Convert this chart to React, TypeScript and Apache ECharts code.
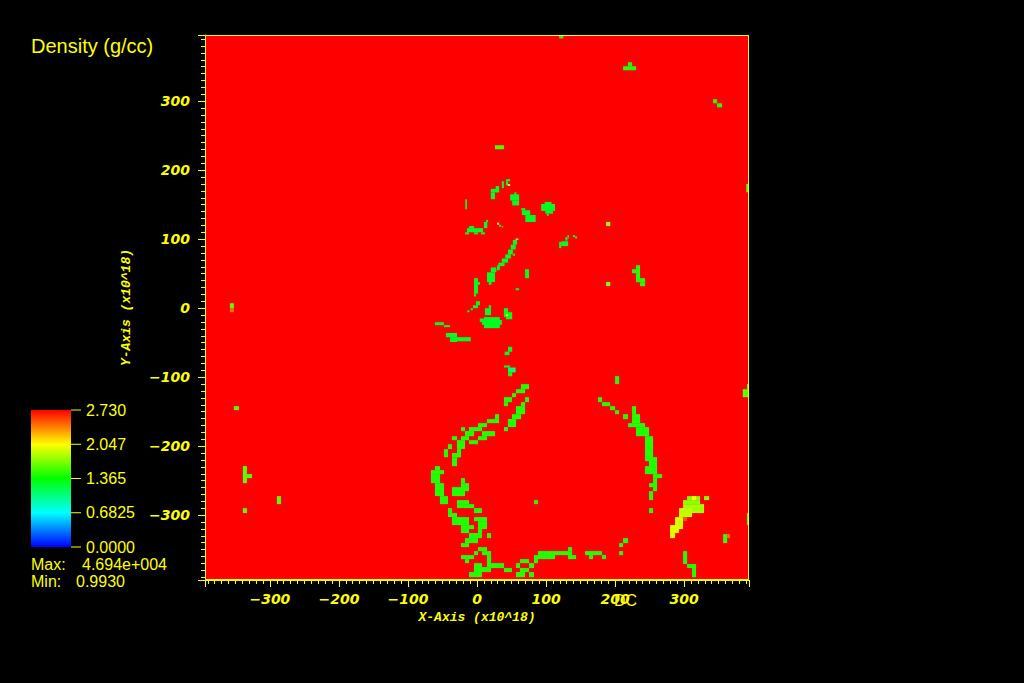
import React, { useEffect, useRef } from "react";
import * as echarts from "echarts";

// ---------- data ----------
const VAR_TITLE = "Density (g/cc)";
const X_NAME = "X-Axis (x10^18)";
const Y_NAME = "Y-Axis (x10^18)";
const DB_LABEL = "DC";
const X_RANGE = [-394, 394];
const Y_RANGE = [-394, 396];
const CBAR_MIN = 0;
const CBAR_MAX = 2.73;
const CBAR_TICKS = [2.73, 2.047, 1.365, 0.6825, 0.0];
const CBAR_LABELS = ["2.730", "2.047", "1.365", "0.6825", "0.0000"];
const DATA_MAX = "4.694e+004";
const DATA_MIN = "0.9930";
const COLOR_STOPS: [number, string][] = [
  [0, "#0000ff"],
  [0.25, "#00ffff"],
  [0.5, "#00ff00"],
  [0.75, "#ffff00"],
  [1, "#ff0000"],
];

// cells: [x0, x1, y0, y1, density]
const DOMAIN = [[-394, 394, -394, 396, 3.5]];

const NORTH_CELLS = [
  [119, 125, 391, 397, 1.45],
  [218.8, 224.6, 350.7, 356.5, 1.45],
  [211.6, 230.4, 344.9, 350.7, 1.45],
  [342, 347.8, 297, 303, 1.45],
  [347.8, 355, 291.2, 297, 1.45],
  [26, 39, 230.4, 236.2, 1.55],
  [390, 394, 168, 180, 1.6],
];

const FILAMENT_CELLS = [
  [42, 48, 184, 187, 1.28],
  [42, 45, 178, 184, 1.28],
  [36, 39, 174, 184, 1.28],
  [45, 48, 177, 180, 2.05],
  [27, 32, 168, 177, 1.28],
  [20, 32, 168, 173, 1.28],
  [20, 26, 158, 168, 1.28],
  [54, 57, 162, 168, 1.28],
  [48, 61, 156, 165, 1.28],
  [51, 61, 149, 156, 1.28],
  [-17, -14.5, 143.5, 158, 1.3],
  [64, 70, 142, 145, 1.28],
  [65, 77, 135, 142, 1.28],
  [70, 85, 125, 135, 1.28],
  [98, 108, 151, 154, 1.28],
  [93, 113, 141, 151, 1.28],
  [99, 110, 137, 141, 1.28],
  [101, 104, 134, 137, 1.28],
  [-11.6, -4.3, 116, 119, 1.28],
  [-14.5, 8.7, 110, 116, 1.28],
  [-17.4, -11.6, 107, 110, 1.3],
  [-4.3, 1.4, 107, 110, 1.3],
  [5.8, 11.6, 107, 110, 1.3],
  [10, 15, 116, 125, 1.28],
  [13, 16, 125, 128, 1.3],
  [29, 32, 121, 124, 2.0],
  [32, 35, 118, 121, 1.3],
  [36, 38, 117, 119, 1.3],
  [119, 122, 87, 96, 1.28],
  [122, 132, 90, 97, 1.28],
  [128, 131, 98, 103, 1.28],
  [131, 133, 101, 106, 1.3],
  [139, 142, 103, 106, 1.3],
  [142, 145, 101, 104, 1.3],
  [187, 193, 119, 125, 1.75],
  [187, 193, 32, 38, 1.7],
  [56, 60, 99, 101, 2.05],
  [52, 58, 92, 99, 1.28],
  [49, 56, 85, 92, 1.28],
  [45, 52, 78, 85, 1.28],
  [41, 49, 72, 78, 1.28],
  [36, 45, 66, 72, 1.28],
  [31, 40, 61, 66, 1.28],
  [52, 55, 76, 79, 1.3],
  [29, 33, 55, 62, 1.28],
  [20, 28, 52, 59, 1.28],
  [14.5, 26, 38, 52, 1.28],
  [17, 21, 34, 38, 1.28],
  [-4.3, 1.4, 21, 43.5, 1.28],
  [1.4, 4.3, 34, 38, 1.28],
  [-4.3, -1.4, 17, 21, 1.3],
  [69.6, 75.3, 43.5, 56.5, 1.3],
  [56, 61, 26, 29, 1.3],
  [-1.4, 4.3, 4.3, 10.1, 1.3],
  [-5.8, 1.4, 0, 4.3, 1.3],
  [17, 20.3, 0, 4.3, 1.28],
  [11.6, 20.3, -10.1, 0, 1.28],
  [-14, -11, -6, -3, 1.3],
  [-9, -6, -3, 0, 1.3],
  [10, 33, -29, -13, 1.28],
  [7, 36, -24, -17, 1.28],
  [4, 10, -20, -15, 1.3],
  [39, 45, -13, 0, 1.3],
  [42, 51, -16, -6, 1.3],
  [42, 45, -11.6, -8.7, 2.05],
  [-61, -48, -24.6, -20.3, 1.28],
  [-48, -39, -27.5, -24.6, 1.28],
  [-45, -29, -42, -36, 1.28],
  [-39, -29, -49, -42, 1.28],
  [-29, -9, -48, -42, 1.28],
  [45, 51, -63, -56, 1.28],
  [40, 47, -68, -63, 1.28],
  [39, 48, -86, -83, 1.3],
  [45, 56, -93, -86, 1.05],
  [45, 51, -98.5, -93, 1.4],
];

const ARC_WEST = [
  [63.8, 75.3, -117.4, -110.1, 1.45],
  [56.5, 69.6, -123.2, -117.4, 1.45],
  [50.7, 56.5, -129, -123.2, 1.45],
  [39.1, 50.7, -136.2, -129, 1.45],
  [39.1, 44.9, -142, -136.2, 1.45],
  [69.6, 75.3, -136.2, -129, 1.45],
  [63.8, 69.6, -142, -136.2, 1.45],
  [56.5, 69.6, -153.6, -142, 1.45],
  [50.7, 63.8, -160.8, -153.6, 1.45],
  [44.9, 56.5, -172.4, -160.8, 1.45],
  [39.1, 44.9, -178.2, -172.4, 1.45],
  [26.1, 31.9, -160.8, -153.6, 1.45],
  [14.5, 31.9, -166.6, -160.8, 1.45],
  [1.4, 14.5, -172.4, -166.6, 1.45],
  [-11.6, 7.2, -178.2, -172.4, 1.45],
  [-23.2, -17.4, -178.2, -172.4, 1.45],
  [-17.4, -4.3, -185.5, -178.2, 1.45],
  [7.2, 26.1, -185.5, -178.2, 1.45],
  [1.4, 14.5, -191.3, -185.5, 1.45],
  [-11.6, 1.4, -197.1, -191.3, 1.45],
  [-23.2, -11.6, -191.3, -185.5, 1.45],
  [-36.2, -29, -191.3, -185.5, 1.45],
  [-29, -17.4, -204, -191.3, 1.45],
  [-29, -23.2, -216, -204, 1.45],
  [-42, -36.2, -204.3, -197.1, 1.45],
  [-47.8, -42, -215.9, -204.3, 1.45],
  [-36.2, -23.2, -216, -210, 1.45],
  [-36.2, -29, -229, -216, 1.45],
  [-60.9, -53.6, -234.7, -229, 1.45],
  [-66.7, -47.8, -240.5, -234.7, 1.45],
  [-66.7, -53.6, -253.6, -240.5, 1.45],
  [-60.9, -47.8, -272.4, -253.6, 1.45],
  [-53.6, -42, -284, -272.4, 1.45],
  [-23.2, -17.4, -253.6, -246.3, 1.45],
  [-23.2, -11.6, -265.2, -253.6, 1.45],
  [-36.2, -17.4, -272.4, -259.4, 1.45],
  [82.6, 88.4, -284, -278.2, 1.45],
  [-29, -11.6, -284, -278.2, 1.45],
  [-29, -4.3, -289.8, -284, 1.45],
  [-4.3, 7.2, -297, -289.8, 1.45],
  [-42, -36.2, -297, -289.8, 1.45],
  [-42, -29, -302.8, -297, 1.45],
  [-36.2, -11.6, -314.4, -302.8, 1.45],
  [-4.3, 14.5, -308.6, -302.8, 1.45],
  [1.4, 14.5, -320.2, -308.6, 1.45],
  [-23.2, -11.6, -326, -314.4, 1.45],
  [-11.6, -4.3, -320.2, -314.4, 1.45],
  [1.4, 7.2, -326, -320.2, 1.45],
  [-11.6, 7.2, -333.3, -326, 1.45],
  [14.5, 20.3, -333.3, -326, 1.45],
  [-17.4, 1.4, -340.5, -333.3, 1.45],
  [-23.2, -11.6, -346.3, -340.5, 1.45],
  [1.4, 14.5, -352.1, -346.3, 1.45],
  [-4.3, 1.4, -357.9, -352.1, 1.45],
  [7.2, 20.3, -357.9, -352.1, 1.45],
  [-23.2, -4.3, -363.7, -357.9, 1.45],
  [-17.4, -11.6, -369.5, -363.7, 1.45],
  [14.5, 20.3, -375.3, -357.9, 1.45],
  [-4.3, 7.2, -382.5, -369.5, 1.45],
  [7.2, 20.3, -382.5, -375.3, 1.45],
  [20.3, 39.1, -376.7, -369.5, 1.45],
  [39.1, 50.7, -382.5, -376.7, 1.45],
  [-11.6, 7.2, -389.8, -382.5, 1.45],
  [56.5, 62.3, -376.7, -369.5, 1.45],
  [62.3, 75.3, -369.5, -363.7, 1.45],
  [75.3, 82.6, -376.7, -369.5, 1.45],
  [62.3, 75.3, -382.5, -376.7, 1.45],
  [56.5, 69.6, -389.8, -382.5, 1.45],
  [75.3, 82.6, -389.8, -382.5, 1.45],
  [82.6, 88.4, -369.5, -357.9, 1.45],
  [88.4, 113, -363.7, -352.1, 1.45],
  [113, 137.7, -357.9, -352.1, 1.45],
  [131.9, 137.7, -352.1, -346.3, 1.45],
  [131.9, 143.5, -363.7, -357.9, 1.45],
];

const ARC_EAST = [
  [200, 205.8, -110.1, -98.5, 1.45],
  [175.3, 181.1, -136.2, -129, 1.45],
  [181.1, 192.7, -142, -136.2, 1.45],
  [192.7, 200, -147.8, -142, 1.45],
  [200, 205.8, -153.6, -147.8, 1.45],
  [211.6, 218.8, -160.8, -153.6, 1.45],
  [224.6, 230.4, -153.6, -142, 1.45],
  [224.6, 236.2, -166.6, -153.6, 1.45],
  [218.8, 224.6, -172.4, -166.6, 1.45],
  [224.6, 243.4, -172.4, -166.6, 1.45],
  [230.4, 249.2, -185.5, -172.4, 1.45],
  [243.4, 255, -221.7, -185.5, 1.45],
  [249.2, 260.8, -228.9, -215.9, 1.45],
  [243.4, 260.8, -240.5, -228.9, 1.45],
  [255, 268.1, -246.3, -240.5, 1.45],
  [255, 260.8, -265.2, -246.3, 1.45],
  [249.2, 255, -259.4, -253.6, 1.45],
  [249.2, 255, -278.2, -265.2, 1.45],
  [249.2, 255, -297, -289.8, 1.45],
  [156.5, 181.1, -357.9, -352.1, 1.45],
  [162.3, 168.1, -363.7, -357.9, 1.45],
  [181.1, 186.9, -363.7, -357.9, 1.45],
  [205.8, 211.6, -346.3, -340.5, 1.45],
  [211.6, 218.8, -340.5, -333.3, 1.45],
  [205.8, 211.6, -357.9, -352.1, 1.45],
  [298.5, 304.3, -370.9, -352.1, 1.45],
  [304.3, 317.3, -376.7, -370.9, 1.45],
  [311.5, 317.3, -389.8, -376.7, 1.45],
  [230.4, 236.2, 40.6, 62.3, 1.45],
  [224.6, 230.4, 50.7, 56.5, 1.45],
  [230.4, 243.4, 37.7, 43.5, 1.45],
  [236.2, 243.4, 31.9, 37.7, 1.45],
];

const CLUMP = [
  [304.3, 323.1, -278.2, -272.4, 1.72],
  [311.5, 317.3, -278.2, -272.4, 2.05],
  [328.9, 336.2, -278.2, -272.4, 1.72],
  [298.5, 323.1, -284, -278.2, 1.75],
  [298.5, 328.9, -297, -284, 1.8],
  [292.7, 311.5, -302.8, -289.8, 1.88],
  [286.9, 298.5, -320.2, -302.8, 1.93],
  [298.5, 304.3, -308.6, -302.8, 2.5],
  [279.7, 292.7, -326, -314.4, 1.95],
  [279.7, 286.9, -333.3, -326, 1.97],
];

const OUTLIERS = [
  [356.5, 362.3, -340.5, -327.5, 1.5],
  [362.3, 366.6, -333.3, -327.5, 2.45],
  [391, 394, -117.4, -110.1, 1.6],
  [385, 394, -129, -117.4, 1.6],
  [391, 394, -314.4, -297, 1.6],
  [-357.9, -352.1, 0, 7.2, 1.6],
  [-357.9, -352.1, -5.8, 0, 2.45],
  [-352.1, -344.9, -147.8, -142, 1.6],
  [-339.1, -333.3, -253.6, -228.9, 1.6],
  [-333.3, -326, -246.3, -240.5, 1.6],
  [-289.8, -284, -284, -272.4, 1.6],
  [-339.1, -333.3, -297, -289.8, 1.6],
];

const CELLS = [
  ...DOMAIN,
  ...NORTH_CELLS,
  ...FILAMENT_CELLS,
  ...ARC_WEST,
  ...ARC_EAST,
  ...CLUMP,
  ...OUTLIERS,
];

// ---------- helpers ----------
function hexToRgb(h: string) {
  return [1, 3, 5].map((i) => parseInt(h.slice(i, i + 2), 16));
}
function colorFor(v: number) {
  let t = (v - CBAR_MIN) / (CBAR_MAX - CBAR_MIN);
  t = Math.max(0, Math.min(1, t));
  for (let i = 1; i < COLOR_STOPS.length; i++) {
    const [t1, c1] = COLOR_STOPS[i];
    const [t0, c0] = COLOR_STOPS[i - 1];
    if (t <= t1) {
      const f = (t - t0) / (t1 - t0);
      const a = hexToRgb(c0);
      const b = hexToRgb(c1);
      const c = a.map((x, k) => Math.round(x + (b[k] - x) * f));
      return `rgb(${c[0]},${c[1]},${c[2]})`;
    }
  }
  return COLOR_STOPS[COLOR_STOPS.length - 1][1];
}

const YELLOW = "#ffff00";
const fmtTick = (v: number) => (v < 0 ? "\u2212" + Math.abs(v) : String(v));

export default function App() {
  const ref = useRef<HTMLDivElement>(null);
  useEffect(() => {
    if (!ref.current) return;
    const chart = echarts.init(ref.current, undefined, { renderer: "svg" });

    const GRID = { left: 205, top: 35, width: 544, height: 545 };
    const CB = { x: 31, y: 410, w: 40, h: 137 };

    const axisCommon = {
      type: "value" as const,
      splitNumber: 8,
      splitLine: { show: false },
      axisLine: { show: true, onZero: false, lineStyle: { color: YELLOW, width: 1 } },
      axisTick: { show: true, length: 7, lineStyle: { color: YELLOW, width: 1 } },
      minorTick: { show: true, splitNumber: 10, length: 4, lineStyle: { color: YELLOW, width: 1 } },
      axisLabel: {
        color: YELLOW,
        fontFamily: "DejaVu Sans",
        fontStyle: "italic" as const,
        fontWeight: "bold" as const,
        fontSize: 14,
        showMinLabel: false,
        showMaxLabel: false,
        formatter: (v: number) => fmtTick(v),
      },
      nameLocation: "middle" as const,
      nameTextStyle: {
        color: YELLOW,
        fontFamily: "Liberation Mono",
        fontStyle: "italic" as const,
        fontWeight: "bold" as const,
        fontSize: 13,
      },
    };

    // gradient stops in ascending offset order (top of bar = max value)
    const cbStops = COLOR_STOPS.map(([t, c]) => ({ offset: 1 - t, color: c })).reverse();
    const cbGradient = new echarts.graphic.LinearGradient(0, 0, 0, 1, cbStops);

    const cbElems: any[] = [];
    CBAR_TICKS.forEach((v, i) => {
      const y = CB.y + (1 - (v - CBAR_MIN) / (CBAR_MAX - CBAR_MIN)) * CB.h;
      cbElems.push({
        type: "line",
        shape: { x1: CB.x + CB.w, y1: y, x2: CB.x + CB.w + 10, y2: y },
        style: { stroke: YELLOW, lineWidth: 1 },
      });
      cbElems.push({
        type: "text",
        x: CB.x + CB.w + 15,
        y,
        style: {
          text: CBAR_LABELS[i],
          fill: YELLOW,
          fontFamily: "Liberation Sans",
          fontSize: 16,
          align: "left",
          verticalAlign: "middle",
        },
      });
    });

    const textStyle = (s: any) => ({
      fill: YELLOW,
      fontFamily: "Liberation Sans",
      fontSize: 16,
      align: "left",
      verticalAlign: "middle",
      ...s,
    });

    chart.setOption({
      animation: false,
      backgroundColor: "#000000",
      grid: { ...GRID, containLabel: false },
      xAxis: {
        ...axisCommon,
        min: X_RANGE[0],
        max: X_RANGE[1],
        axisLabel: { ...axisCommon.axisLabel, margin: 12 },
        name: X_NAME,
        nameGap: 30,
      },
      yAxis: {
        ...axisCommon,
        min: Y_RANGE[0],
        max: Y_RANGE[1],
        axisLabel: { ...axisCommon.axisLabel, margin: 15 },
        name: Y_NAME,
        nameGap: 72,
      },
      series: [
        {
          type: "custom",
          clip: true,
          data: CELLS,
          encode: { x: [0, 1], y: [2, 3] },
          renderItem: (params: any, api: any) => {
            const x0 = api.value(0), x1 = api.value(1);
            const y0 = api.value(2), y1 = api.value(3);
            const p0 = api.coord([x0, y1]);
            const p1 = api.coord([x1, y0]);
            return {
              type: "rect",
              shape: { x: p0[0], y: p0[1], width: p1[0] - p0[0], height: p1[1] - p0[1] },
              style: { fill: colorFor(api.value(4)), stroke: null },
            };
          },
        },
      ],
      graphic: [
        {
          type: "rect",
          z: 100,
          shape: { x: GRID.left + 0.5, y: GRID.top + 0.5, width: GRID.width - 1, height: GRID.height - 1 },
          style: { fill: "none", stroke: YELLOW, lineWidth: 1 },
        },
        {
          type: "text",
          x: 31,
          y: 46,
          style: textStyle({ text: VAR_TITLE, fontSize: 20 }),
        },
        {
          type: "rect",
          shape: { x: CB.x, y: CB.y, width: CB.w, height: CB.h },
          style: { fill: cbGradient },
        },
        ...cbElems,
        { type: "text", x: 31, y: 564, style: textStyle({ text: "Max:" }) },
        { type: "text", x: 82, y: 564, style: textStyle({ text: DATA_MAX }) },
        { type: "text", x: 31, y: 581, style: textStyle({ text: "Min:" }) },
        { type: "text", x: 76, y: 581, style: textStyle({ text: DATA_MIN }) },
        { type: "text", x: 614, y: 600, z: 50, style: textStyle({ text: DB_LABEL }) },
      ],
    });
    return () => chart.dispose();
  }, []);
  return (
    <div
      ref={ref}
      style={{ position: "fixed", left: 0, top: 0, width: 1024, height: 683, background: "#000" }}
    />
  );
}
